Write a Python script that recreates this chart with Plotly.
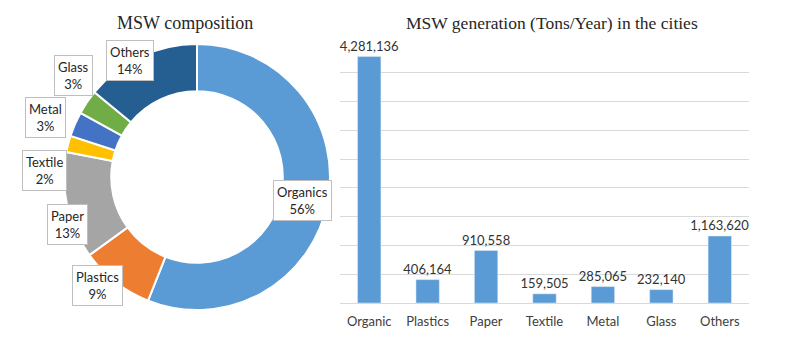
import plotly.graph_objects as go

# ---- data ----
pie_labels = ["Organics", "Plastics", "Paper", "Textile", "Metal", "Glass", "Others"]
pie_pct = [56, 9, 13, 2, 3, 3, 14]
pie_colors = ["#5B9BD5", "#ED7D31", "#A5A5A5", "#FFC000", "#4472C4", "#70AD47", "#255E91"]

bar_categories = ["Organic", "Plastics", "Paper", "Textile", "Metal", "Glass", "Others"]
bar_values = [4281136, 406164, 910558, 159505, 285065, 232140, 1163620]

# pixel positions (x, y from top) of the boxed pie labels
label_pos = [(302, 200), (97, 285), (67, 224), (44, 170), (45, 117), (73, 75), (130, 60)]

W, H = 795, 350
def px(x): return x / W
def py(y): return 1 - y / H

fig = go.Figure()

fig.add_trace(go.Pie(
    labels=pie_labels, values=pie_pct, hole=0.645, sort=False, direction="clockwise",
    rotation=0, marker=dict(colors=pie_colors, line=dict(color="white", width=2)),
    textinfo="none", showlegend=False,
    domain=dict(x=[px(64), px(330)], y=[py(310), py(44)]),
))

fig.add_trace(go.Bar(
    x=bar_categories, y=bar_values, marker_color="#5B9BD5",
    text=[f"{v:,}" for v in bar_values], textposition="outside", constraintext="none",
    textfont=dict(family="Lato", size=13, color="#333333"),
    cliponaxis=False, showlegend=False,
))

annotations = []
for lab, pct, (x, y) in zip(pie_labels, pie_pct, label_pos):
    annotations.append(dict(
        x=px(x), y=py(y), xref="paper", yref="paper", showarrow=False,
        text=f"{lab}<br>{pct}%", align="center",
        font=dict(family="Lato", size=13, color="#262626"),
        bgcolor="white", bordercolor="#BFBFBF", borderwidth=1, borderpad=3,
        xanchor="center", yanchor="middle",
    ))
annotations.append(dict(x=px(185), y=py(23), xref="paper", yref="paper", showarrow=False,
                        xanchor="center", yanchor="middle",
                        text="MSW composition", font=dict(family="Liberation Serif", size=18, color="#262626")))
annotations.append(dict(x=px(552), y=py(23), xref="paper", yref="paper", showarrow=False,
                        xanchor="center", yanchor="middle",
                        text="MSW generation (Tons/Year) in the cities",
                        font=dict(family="Liberation Serif", size=17.5, color="#262626")))

fig.update_layout(
    width=W, height=H, margin=dict(l=0, r=0, t=0, b=0),
    paper_bgcolor="white", plot_bgcolor="white",
    bargap=0.6, annotations=annotations,
    xaxis=dict(domain=[px(340), px(749)], showline=True, linecolor="#D9D9D9", ticks="",
               ticklabelstandoff=6,
               tickfont=dict(family="Lato", size=13, color="#404040")),
    yaxis=dict(domain=[py(303), py(44)], range=[0, 4500000], dtick=500000,
               showticklabels=False, gridcolor="#D9D9D9", zeroline=False),
)

fig.write_html("out.html", config={"displayModeBar": False},
               post_script="document.body.style.margin='0px';")
